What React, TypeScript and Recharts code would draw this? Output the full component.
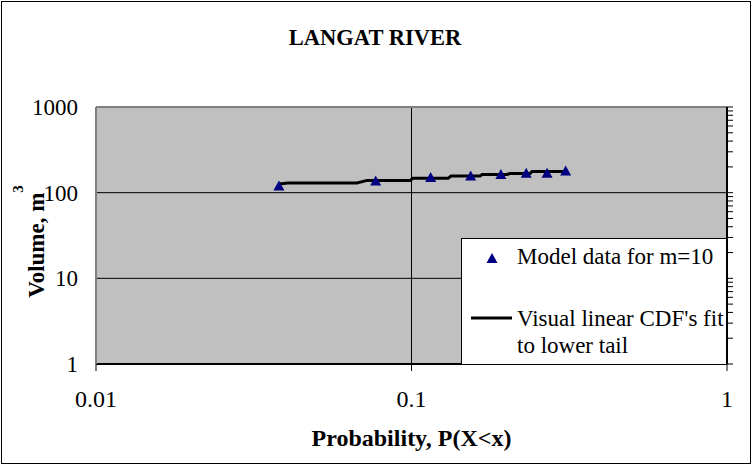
import {
  CartesianGrid,
  ComposedChart,
  Label,
  Legend,
  Scatter,
  XAxis,
  YAxis,
} from "recharts";

// model data (m = 10), plotting positions and volumes in m^3
const modelProb = [0.038, 0.077, 0.115, 0.154, 0.192, 0.231, 0.269, 0.308];
const modelVolume = [121, 139, 152, 159, 165, 171, 171, 181];

// visual linear CDF fit to the lower tail
const fitProb = [
  0.038, 0.0405, 0.0672, 0.0723, 0.0989, 0.1011, 0.1306, 0.1335, 0.1649,
  0.1673, 0.2007, 0.2051, 0.2375, 0.241, 0.311,
];
const fitVolume = [
  126, 130, 130, 139, 139, 147, 147, 156, 156, 163, 163, 167, 167, 177, 177,
];

const xMajorTicks = [0.01, 0.1, 1];
const xMinorTicks = [
  0.02, 0.03, 0.04, 0.05, 0.06, 0.07, 0.08, 0.09, 0.2, 0.3, 0.4, 0.5, 0.6,
  0.7, 0.8, 0.9,
];
const yMajorTicks = [1, 10, 100, 1000];
const yAllTicks = [
  1, 2, 3, 4, 5, 6, 7, 8, 9, 10, 20, 30, 40, 50, 60, 70, 80, 90, 100, 200,
  300, 400, 500, 600, 700, 800, 900, 1000,
];

const modelData = modelProb.map((p, i) => ({ p, v: modelVolume[i] }));
const fitData = fitProb.map((p, i) => ({ p, v: fitVolume[i] }));

const FONT = "'Liberation Serif', 'Times New Roman', serif";
const NAVY = "#000080";
const serif = { fontFamily: FONT };

const Triangle = (props: any) => {
  const { cx, cy } = props;
  if (cx == null || cy == null) return null;
  return (
    <polygon
      points={`${cx - 5.5},${cy + 5} ${cx + 5.5},${cy + 5} ${cx},${cy - 5}`}
      fill={NAVY}
    />
  );
};

const LegendBox = () => (
  <svg width={266} height={127} style={{ display: "block" }}>
    <rect x={0.5} y={0.5} width={265} height={126} fill="#fff" stroke="#000" />
    <polygon points="25.5,25 36.5,25 31,15" fill={NAVY} />
    <text x={56} y={26} fontSize={23} fill="#000" style={serif}>
      Model data for m=10
    </text>
    <text x={56} y={88} fontSize={23} fill="#000" style={serif}>
      Visual linear CDF's fit
    </text>
    <text x={56} y={115} fontSize={23} fill="#000" style={serif}>
      to lower tail
    </text>
    <line x1={10} y1={80} x2={51} y2={80} stroke="#000" strokeWidth={3} />
  </svg>
);

const YTitle = (props: any) => {
  const { x, y, height } = props.viewBox;
  const cx = x - 51;
  const cy = y + height / 2 + 6;
  return (
    <text
      transform={`translate(${cx},${cy}) rotate(-90)`}
      textAnchor="middle"
      fontWeight="bold"
      fontSize={23}
      fill="#000"
      style={serif}
    >
      Volume, m
      <tspan fontSize={15} dy={-21}>
        3
      </tspan>
    </text>
  );
};

const XTitle = (props: any) => {
  const { x, y, width } = props.viewBox;
  return (
    <text
      x={x + width / 2}
      y={y + 82}
      textAnchor="middle"
      fontWeight="bold"
      fontSize={24}
      fill="#000"
      style={serif}
    >
      Probability, P(X&lt;x)
    </text>
  );
};

const xTickStyle = { fill: "#000", fontSize: 24, fontFamily: FONT };
const yTickStyle = { fill: "#000", fontSize: 23, fontFamily: FONT };

export default function App() {
  return (
    <div
      style={{
        position: "absolute",
        left: 0,
        top: 0,
        width: 753,
        height: 466,
        background: "#fff",
      }}
    >
      <div
        style={{
          position: "absolute",
          left: 1,
          top: 1,
          width: 750,
          height: 463,
          border: "1px solid #000",
          boxSizing: "border-box",
        }}
      />
      <div
        style={{
          position: "absolute",
          left: 0,
          top: 27,
          width: 750,
          textAlign: "center",
          fontFamily: FONT,
          fontWeight: "bold",
          fontSize: 22.5,
          lineHeight: "22px",
        }}
      >
        LANGAT RIVER
      </div>
      <ComposedChart
        width={753}
        height={466}
        margin={{ top: 106, right: 25, bottom: 101, left: 95 }}
        style={{ position: "absolute", left: 0, top: 0 }}
      >
        <CartesianGrid
          stroke="#000"
          strokeWidth={1}
          fill="#c0c0c0"
          fillOpacity={1}
        />
        <XAxis
          dataKey="p"
          type="number"
          scale="log"
          domain={[0.01, 1]}
          allowDataOverflow
          ticks={xMajorTicks}
          interval={0}
          height={1}
          tickSize={7}
          tickMargin={19}
          tick={xTickStyle}
          tickLine={{ stroke: "#000" }}
          axisLine={{ stroke: "#000", strokeWidth: 2 }}
        >
          <Label content={XTitle} />
        </XAxis>
        <XAxis
          xAxisId="minor"
          type="number"
          scale="log"
          domain={[0.01, 1]}
          allowDataOverflow
          ticks={xMinorTicks}
          interval={0}
          height={1}
          mirror
          tickSize={5}
          tickFormatter={() => ""}
          tickLine={{ stroke: "#000" }}
          axisLine={false}
        />
        <XAxis
          xAxisId="top"
          orientation="top"
          type="number"
          scale="log"
          domain={[0.01, 1]}
          allowDataOverflow
          height={1}
          tick={false}
          axisLine={{ stroke: "#808080", strokeWidth: 2 }}
        />
        <YAxis
          dataKey="v"
          type="number"
          scale="log"
          domain={[1, 1000]}
          allowDataOverflow
          ticks={yMajorTicks}
          interval={0}
          width={1}
          tickSize={0}
          tickMargin={18}
          tick={yTickStyle}
          tickLine={false}
          axisLine={{ stroke: "#808080", strokeWidth: 2 }}
        >
          <Label content={YTitle} />
        </YAxis>
        <YAxis
          yAxisId="right"
          orientation="right"
          type="number"
          scale="log"
          domain={[1, 1000]}
          allowDataOverflow
          ticks={yAllTicks}
          interval={0}
          width={1}
          tickSize={6}
          tickFormatter={() => ""}
          tickLine={{ stroke: "#000" }}
          axisLine={{ stroke: "#000", strokeWidth: 2 }}
        />
        <Scatter
          name="Visual linear CDF's fit to lower tail"
          data={fitData}
          line={{ stroke: "#000", strokeWidth: 3 }}
          lineJointType="linear"
          shape={() => null}
          isAnimationActive={false}
        />
        <Scatter
          name="Model data for m=10"
          data={modelData}
          shape={Triangle}
          isAnimationActive={false}
        />
        <Legend
          layout="vertical"
          align="center"
          verticalAlign="middle"
          content={LegendBox}
          wrapperStyle={{ left: 461, top: 238, width: 266, height: 127 }}
        />
      </ComposedChart>
    </div>
  );
}
